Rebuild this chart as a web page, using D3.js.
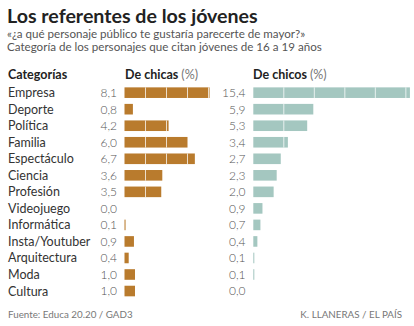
<!DOCTYPE html>
<html>
<head>
<meta charset="utf-8">
<script src="https://cdn.jsdelivr.net/npm/d3@7"></script>
<style>
  body { margin: 0; background: #fff; }
  svg { display: block; font-family: Lato, 'Open Sans', sans-serif; }
</style>
</head>
<body>
<div id="plot"></div>
<script>
'use strict';

const categories = ['Empresa', 'Deporte', 'Política', 'Familia', 'Espectáculo', 'Ciencia', 'Profesión',
  'Videojuego', 'Informática', 'Insta/Youtuber', 'Arquitectura', 'Moda', 'Cultura'];
const chicas = [8.1, 0.8, 4.2, 6.0, 6.7, 3.6, 3.5, 0.0, 0.1, 0.9, 0.4, 1.0, 1.0];
const chicos = [15.4, 5.9, 5.3, 3.4, 2.7, 2.3, 2.0, 0.9, 0.7, 0.4, 0.1, 0.1, 0.0];
const chicasTicks = [2, 4, 6, 8];
const chicosTicks = [3, 6, 9, 12, 15];

const col = ['#b97b2d', '#a4c7c0'];

const width = 414;
const height = 326;

let svg = d3.select('#plot').append('svg')
  .attr('width', width)
  .attr('height', height);

// title block
svg.append('text')
  .attr('x', 7).attr('y', 23)
  .attr('font-size', '19.6px').attr('font-weight', 'bold').attr('fill', '#222')
  .text('Los referentes de los jóvenes');
svg.append('text')
  .attr('x', 7).attr('y', 37.5)
  .attr('font-size', '11.6px').attr('fill', '#555')
  .text('«¿a qué personaje público te gustaría parecerte de mayor?»');
svg.append('text')
  .attr('x', 7).attr('y', 50.5)
  .attr('font-size', '11.6px').attr('fill', '#555')
  .text('Categoría de los personajes que citan jóvenes de 16 a 19 años');

// column headers
let header = function(x, bold, rest) {
  let t = svg.append('text')
    .attr('x', x).attr('y', 79)
    .attr('font-size', '12.5px').attr('fill', '#222');
  t.append('tspan').attr('font-weight', 'bold').text(bold);
  if (rest)
    t.append('tspan').attr('fill', '#777').text(rest);
};
header(8, 'Categorías');
header(125, 'De chicas ', '(%)');
header(253, 'De chicos ', '(%)');

let y = d3.scaleBand()
  .domain(categories)
  .range([84.4, 84.4 + 16.53 * categories.length]);
let barH = 10.6;
let rows = categories.map((c, i) => ({cat: c, chicas: chicas[i], chicos: chicos[i]}));

svg.append('g')
  .selectAll('text')
  .data(rows)
  .enter()
  .append('text')
  .attr('x', 8)
  .attr('y', d => y(d.cat) + y.bandwidth() / 2)
  .attr('dy', '0.36em')
  .attr('font-size', '12.5px')
  .attr('fill', '#333')
  .text(d => d.cat);

let fmt = v => d3.format('.1f')(v).replace('.', ',');

let panel = function(key, x0, perUnit, labelX, ticks, color) {
  let x = d3.scaleLinear()
    .domain([0, 1])
    .range([x0, x0 + perUnit]);
  let g = svg.append('g');
  g.selectAll('text')
    .data(rows)
    .enter()
    .append('text')
    .attr('x', labelX)
    .attr('y', d => y(d.cat) + y.bandwidth() / 2)
    .attr('dy', '0.36em')
    .attr('text-anchor', 'end')
    .attr('font-size', '12px')
    .attr('font-weight', 300)
    .attr('fill', '#555')
    .text(d => fmt(d[key]));
  g.selectAll('rect')
    .data(rows)
    .enter()
    .append('rect')
    .attr('x', x(0))
    .attr('y', d => y(d.cat) + (y.bandwidth() - barH) / 2)
    .attr('width', d => x(d[key]) - x(0))
    .attr('height', barH)
    .attr('fill', color);
  // white separators inside each bar
  rows.forEach(function(d) {
    g.selectAll(null)
      .data(ticks.filter(t => t < d[key]))
      .enter()
      .append('line')
      .attr('x1', t => x(t)).attr('x2', t => x(t))
      .attr('y1', y(d.cat) + (y.bandwidth() - barH) / 2)
      .attr('y2', y(d.cat) + (y.bandwidth() + barH) / 2)
      .attr('stroke', '#fff')
      .attr('stroke-opacity', 0.75)
      .attr('stroke-width', 1);
  });
};
panel('chicas', 124.5, 10.5, 117, chicasTicks, col[0]);
panel('chicos', 253.3, 10.17, 245.5, chicosTicks, col[1]);

// footer
svg.append('text')
  .attr('x', 8).attr('y', 318)
  .attr('font-size', '9.8px').attr('fill', '#777')
  .text('Fuente: Educa 20.20 / GAD3');
svg.append('text')
  .attr('x', 402).attr('y', 318)
  .attr('text-anchor', 'end')
  .attr('font-size', '9.8px').attr('fill', '#777')
  .text('K. LLANERAS  /  EL PAÍS');
</script>
</body>
</html>
